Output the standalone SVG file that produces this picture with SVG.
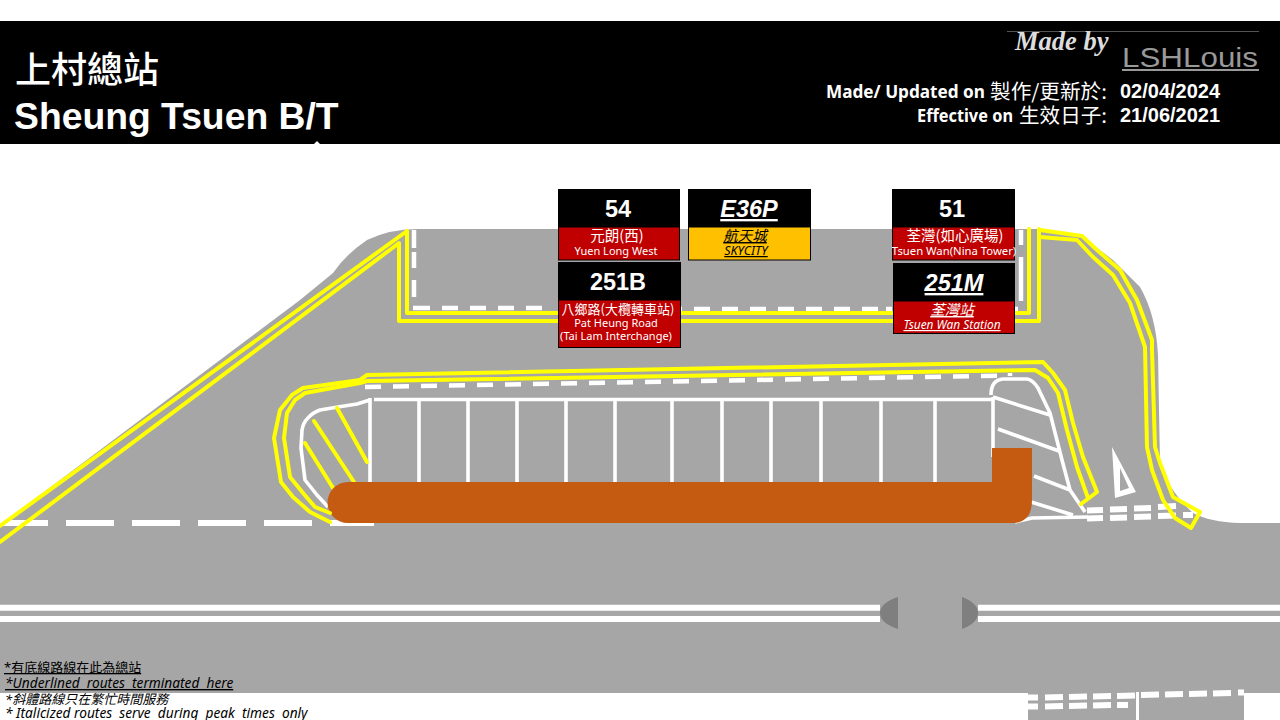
<svg xmlns="http://www.w3.org/2000/svg" width="1280" height="720" viewBox="0 0 1280 720">
<style>
.y{fill:none;stroke:#FFFF00;stroke-width:4;stroke-linejoin:round;stroke-linecap:round}
.w{fill:none;stroke:#fff;stroke-width:3.6;stroke-linejoin:round}
.m{fill:none;stroke:#fff;stroke-width:4.500}
.d{fill:none;stroke:#fff;stroke-width:6}
.num{font-family:"Liberation Sans",Arial,sans-serif;font-weight:700;font-size:23.500px;fill:#fff;text-anchor:middle}
.it{font-style:italic;text-decoration:underline}
.lab{font-family:"Noto Sans","Noto Sans CJK TC",sans-serif;font-size:11px;fill:#fff;text-anchor:middle}
.zh{font-family:"Noto Sans CJK TC",sans-serif;font-size:14.500px;fill:#fff;text-anchor:middle}
.hd{font-family:"Noto Sans","Noto Sans CJK TC",sans-serif;font-weight:700;font-size:17px;fill:#fff}
.hz{font-family:"Noto Sans CJK TC",sans-serif;font-weight:400;font-size:20px;fill:#fff}
.dt{font-family:"Liberation Sans",Arial,sans-serif;font-weight:700;font-size:20px;fill:#fff}
.fn{font-family:"Noto Sans","Noto Sans CJK TC",sans-serif;font-size:13px;fill:#000}
.box{stroke:#000;stroke-width:1}
</style>
<rect width="1280" height="720" fill="#fff"/>
<g id="road">
<path d="M0 525 L300 300 L333 273 Q345 255 367 240 Q390 229 417 229 L1040 229 Q1062 231 1080 235 L1113 260 L1140 287 Q1156 315 1158 355 L1160 463 Q1168 490 1193 513 Q1210 522 1240 523 L1280 523 L1280 693 L1244 693 L1244 720 L1028 720 L1028 693 L0 693 Z" fill="#A6A6A6"/>
</g>
<g id="road-markings">
<path d="M0 607.800H880M978 607.800H1280M0 619H880M978 619H1280" stroke="#fff" stroke-width="6" fill="none"/>
<path d="M898 597 Q880 603 880 613 Q880 623 898 629 Z M962 597 Q978 603 978 613 Q978 623 962 629 Z" fill="#7F7F7F"/>
<path d="M0 523H48M66 523H114M132 523H180M198 523H246M264 523H312M330 523H374" stroke="#fff" stroke-width="6" fill="none"/>
<path class="d" d="M1028 697.500H1038M1045 697.500L1063 697M1069 697L1087 696.500M1093 696.500L1111 696M1117 696L1135 695.500M1028 706.500H1038M1045 706.500L1063 706M1069 706L1087 705.500M1093 705.500L1111 705M1117 705H1128M1141 695L1159 694.500M1165 694.500L1183 694M1189 694L1207 693.500M1213 693.500L1231 693M1238 692.500H1244"/>
<rect x="1136" y="692" width="3" height="28" fill="#fff"/>
<path class="m" d="M414 230V248M414 252V268M414 280V297M413 308H430M442 308H458M470 308H486M498 308H514M526 308H542M681 309H682M694 309H710M722 309H738M750 309H766M778 309H794M806 309H822M834 309H850M862 309H878M886 309H892M1015 309H1018M1021 230V245M1021 257V301"/>
<path class="m" d="M365 387L381 386.700M393 386.500L409 386.200M421 386L437 385.700M449 385.500L465 385.200M477 385L493 384.700M505 384.500L521 384.200M533 384L549 383.700M561 383.500L577 383.200M589 383L605 382.700M617 382.500L633 382.200M645 382L661 381.700M673 381.500L689 381.200M701 381L717 380.700M729 380.500L745 380.200M757 380L773 379.700M785 379.500L801 379.200M813 379L829 378.700M841 378.500L857 378.200M869 378L885 377.700M897 377.500L913 377.200M925 377L941 376.700M953 376.500L969 376.200M981 376L997 375.700M1010 376V373" stroke-width="4"/>
<path class="w" d="M374 399.500H992M370 398V482M419 399V482M468 399V482M517 399V482M566 399V482M615 399V482M672 399V482M722 399V482M771 399V482M821 399V482M881 399V482M935 399V482M993 397V457"/>
<path class="w" d="M370 400L357 404L338 407L320 410Q312 413 308 418Q303 423 302 430L301 448L305 480L317 495L328 507"/>
<path class="y" stroke-linecap="butt" d="M337 408L367 462M314 421L354 482M305 443L333 488"/>
<path class="w" d="M991 395Q991 380 1003 379H1027Q1033 380 1038 388L1050 413L1062 460L1070 490L1085 512M993 397L1050 415M998 429L1059 451M1034 476L1070 490M1031 502L1073 515M1015 522L1032 518L1088 517"/>
<path d="M1112 447L1115 498L1136 492ZM1120 468L1120 491L1129 488Z" fill="#fff" fill-rule="evenodd"/>
<path class="d" d="M1087 510.500L1103 510M1110 509.500L1127 509M1134 508.500L1151 508M1158 507L1176 506M1087 518.500L1103 518M1110 518L1127 517.500M1134 517L1151 516.500M1158 516L1176 515.500M1183 515L1193 515"/>
</g>
<g id="bus-bay">
<path d="M348 482H992V448H1032V500Q1032 523 1012 523H348A20.500 20.500 0 0 1 348 482Z" fill="#C55A11"/>
</g>
<g id="yellow-lines">
<path class="y" d="M0 526L407 231V313H1029V229"/>
<path class="y" d="M0 542L399 243V321H1039V229"/>
<path class="y" d="M1040 230L1082 236L1097 250L1120 270L1137 300L1152 340L1152 350L1155 447L1160 463L1173 497L1200 512L1191 528L1175 518L1163 500L1152 470L1147 447L1145 347L1130 303L1113 275L1093 257L1077 240L1040 237"/>
<path class="y" d="M330 522L310 512L293 497L281 482L274 438L280 410L292 395L303 388L360 380L367 375L1043 362L1053 373L1065 390L1073 423L1083 457L1097 492L1081 504"/>
<path class="y" d="M330 513L315 507L303 493L290 477L284 438L287 413L295 400L305 393L360 383L367 381L1035 370L1048 378L1058 393L1067 430L1077 467L1088 498"/>
</g>
<g id="header">
<rect y="21" width="1280" height="123" fill="#000"/>
<path d="M314 144L317 141L320 144Z" fill="#fff"/>
<text x="15" y="83" font-family="'Noto Sans CJK TC',sans-serif" font-weight="500" font-size="36" fill="#fff">上村總站</text>
<text x="14" y="129" font-family="'Liberation Sans',Arial,sans-serif" font-weight="700" font-size="37.300" fill="#fff">Sheung Tsuen B/T</text>
<path d="M1007 31.500H1259" stroke="#555" stroke-width="1"/>
<text x="1015" y="50" font-family="'Liberation Serif',serif" font-style="italic" font-weight="700" font-size="26.500" fill="#ddd">Made by</text>
<text x="1122" y="67" font-family="'Liberation Sans',sans-serif" font-size="27" fill="#999" textLength="136" lengthAdjust="spacingAndGlyphs">LSHLouis</text>
<rect x="1122" y="69" width="137" height="2" fill="#999"/>
<text class="hd" x="826" y="98" textLength="159" lengthAdjust="spacingAndGlyphs">Made/ Updated on</text>
<text class="hz" x="990" y="99" textLength="117" lengthAdjust="spacingAndGlyphs">製作/更新於:</text>
<text class="hd" x="917" y="122" textLength="96" lengthAdjust="spacingAndGlyphs">Effective on</text>
<text class="hz" x="1019" y="123" textLength="88" lengthAdjust="spacingAndGlyphs">生效日子:</text>
<text class="dt" x="1120" y="98">02/04/2024</text>
<text class="dt" x="1120" y="122">21/06/2021</text>
</g>
<g id="route-54">
<rect x="558" y="189" width="122" height="38" fill="#000"/>
<rect class="box" x="558.500" y="227" width="121" height="33" fill="#C00000"/>
<text class="num" x="618" y="217">54</text>
<text class="zh" x="617" y="241">元朗(西)</text>
<text class="lab" x="616" y="255">Yuen Long West</text>
</g>
<g id="route-E36P">
<rect x="688" y="189" width="123" height="38" fill="#000"/>
<rect class="box" x="688.500" y="227" width="122" height="33" fill="#FFC000"/>
<text class="num it" x="749" y="217">E36P</text>
<text class="zh it" x="745" y="241" style="fill:#000">航天城</text>
<text class="lab it" x="746" y="255" style="fill:#000;font-size:12.500px">SKYCITY</text>
</g>
<g id="route-251B">
<rect x="558" y="262" width="123" height="38" fill="#000"/>
<rect class="box" x="558.500" y="300" width="122" height="47.500" fill="#C00000"/>
<text class="num" x="618" y="290">251B</text>
<text class="zh" x="618" y="314" style="font-size:13px">八鄉路(大欖轉車站)</text>
<text class="lab" x="616" y="327">Pat Heung Road</text>
<text class="lab" x="616" y="340">(Tai Lam Interchange)</text>
</g>
<g id="route-51">
<rect x="892" y="189" width="123" height="38" fill="#000"/>
<rect class="box" x="892.500" y="227" width="122" height="33" fill="#C00000"/>
<text class="num" x="952" y="217">51</text>
<text class="zh" x="955" y="241">荃灣(如心廣場)</text>
<text class="lab" x="954" y="255" style="font-size:11.300px">Tsuen Wan(Nina Tower)</text>
</g>
<g id="route-251M">
<rect x="893" y="263" width="122" height="38" fill="#000"/>
<rect class="box" x="893.500" y="301" width="121" height="32.500" fill="#C00000"/>
<text class="num it" x="954" y="291">251M</text>
<text class="zh it" x="952" y="315">荃灣站</text>
<text class="lab it" x="952" y="329" style="font-size:11.900px">Tsuen Wan Station</text>
</g>
<g id="notes">
<text class="fn" x="4" y="672" text-decoration="underline">*有底線路線在此為總站</text>
<text class="fn" x="5" y="688" font-style="italic" text-decoration="underline" xml:space="preserve" style="font-size:13.700px">*Underlined  routes  terminated  here</text>
<text class="fn" x="5" y="704" font-style="italic">*斜體路線只在繁忙時間服務</text>
<text class="fn" x="5" y="718" font-style="italic" xml:space="preserve" style="font-size:13.700px">* Italicized routes  serve  during  peak  times  only</text>
</g>
</svg>
